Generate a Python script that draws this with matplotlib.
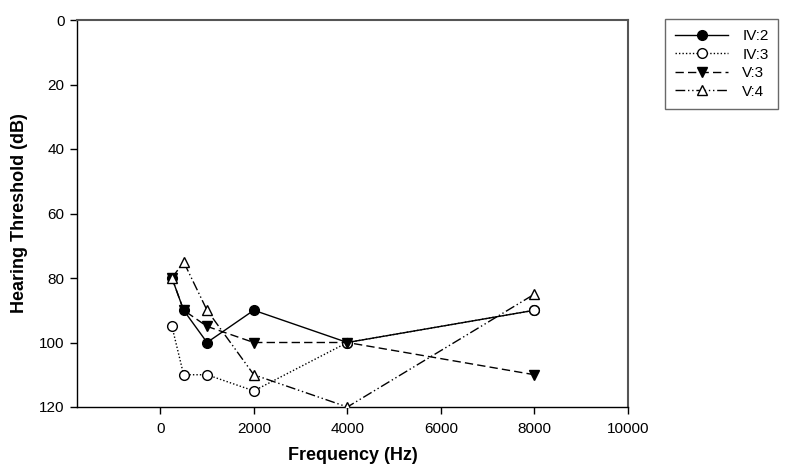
import matplotlib
matplotlib.use("Agg")
import matplotlib.pyplot as plt

plt.rcParams['font.family'] = ['Liberation Sans', 'DejaVu Sans']

freq = [250, 500, 1000, 2000, 4000, 8000]
iv2 = [80, 90, 100, 90, 100, 90]
iv3 = [95, 110, 110, 115, 100, 90]
v3 = [80, 90, 95, 100, 100, 110]
v4 = [80, 75, 90, 110, 120, 85]
labels = ["IV:2", "IV:3", "V:3", "V:4"]
xticks = [0, 2000, 4000, 6000, 8000, 10000]
yticks = [0, 20, 40, 60, 80, 100, 120]

fig = plt.figure(figsize=(7.86, 4.75), dpi=100)
ax = fig.add_axes([77/786, 1 - 407/475, (628-77)/786, (407-20)/475])

ms = 7
ax.plot(freq, iv2, color='black', lw=1.0, ls='-', marker='o', ms=ms,
        mfc='black', mec='black', label=labels[0], zorder=3)
ax.plot(freq, iv3, color='black', lw=1.0, ls=(0, (1, 1.5)), marker='o', ms=ms,
        mfc='white', mec='black', label=labels[1], zorder=3)
ax.plot(freq, v3, color='black', lw=1.0, ls=(0, (6, 3)), marker='v', ms=ms,
        mfc='black', mec='black', label=labels[2], zorder=3)
ax.plot(freq, v4, color='black', lw=1.0, ls=(0, (7, 2, 1, 2, 1, 2)), marker='^', ms=ms,
        mfc='white', mec='black', label=labels[3], zorder=3)

ax.set_xlim(-1780, 10000)
ax.set_ylim(120, 0)
ax.set_xticks(xticks)
ax.set_yticks(yticks)
ax.tick_params(direction='out', length=5, width=1, labelsize=11, colors='black')
ax.tick_params(axis='x', pad=6)
ax.tick_params(axis='y', pad=4)
for s in ['left', 'bottom']:
    ax.spines[s].set_color('black')
    ax.spines[s].set_linewidth(1.0)
for s in ['top', 'right']:
    ax.spines[s].set_color('#555555')
    ax.spines[s].set_linewidth(1.5)

ax.set_xlabel("Frequency (Hz)", fontsize=13, fontweight='bold', labelpad=8)
ax.set_ylabel("Hearing Threshold (dB)", fontsize=13, fontweight='bold', labelpad=8)

leg = fig.legend(loc='upper left', bbox_to_anchor=(665/786, 1 - 19/475),
                 borderaxespad=0.0,
                 frameon=True, fancybox=False, edgecolor='#444444', fontsize=11,
                 handlelength=3.5, borderpad=0.65, labelspacing=0.3, handletextpad=0.9)
leg.get_frame().set_linewidth(1.0)

fig.savefig("out.png", dpi=100)
